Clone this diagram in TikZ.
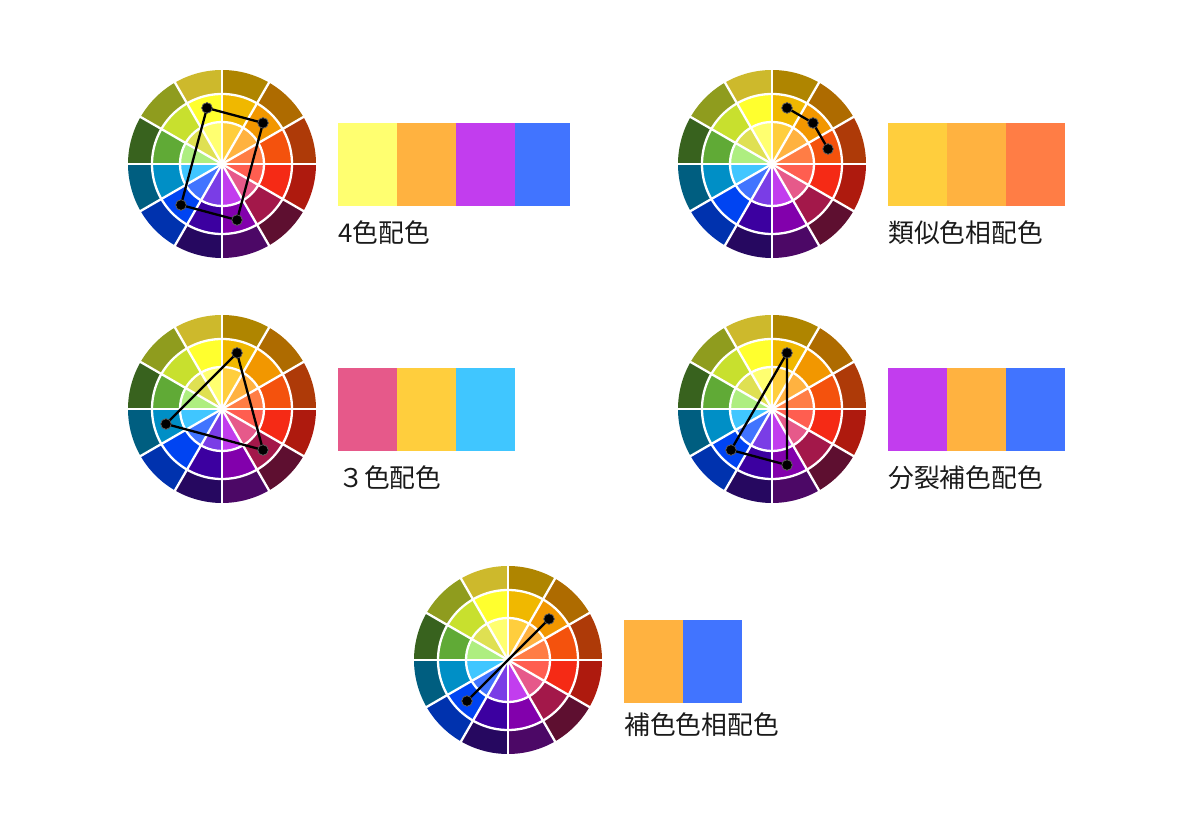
\documentclass[tikz,border=0pt]{standalone}
\usepackage{fontspec}
\newfontfamily\jpfont{Noto Sans CJK JP}
\definecolor{txt}{HTML}{1A1A1A}
% outer / middle / inner ring colours, clockwise from the top
\definecolor{oA}{HTML}{AF8500}\definecolor{mA}{HTML}{F0B800}\definecolor{iA}{HTML}{FFCE3D}
\definecolor{oB}{HTML}{AE6B00}\definecolor{mB}{HTML}{F29700}\definecolor{iB}{HTML}{FFB240}
\definecolor{oC}{HTML}{AE3A08}\definecolor{mC}{HTML}{F4520D}\definecolor{iC}{HTML}{FF7D45}
\definecolor{oD}{HTML}{AE1A0E}\definecolor{mD}{HTML}{F52A15}\definecolor{iD}{HTML}{FF5E50}
\definecolor{oE}{HTML}{5E0F30}\definecolor{mE}{HTML}{A3184A}\definecolor{iE}{HTML}{E6598A}
\definecolor{oF}{HTML}{4C0866}\definecolor{mF}{HTML}{8200AC}\definecolor{iF}{HTML}{C23DEE}
\definecolor{oG}{HTML}{260860}\definecolor{mG}{HTML}{3C00A0}\definecolor{iG}{HTML}{7A3DE6}
\definecolor{oH}{HTML}{0032AE}\definecolor{mH}{HTML}{0044F2}\definecolor{iH}{HTML}{4174FF}
\definecolor{oI}{HTML}{005E80}\definecolor{mI}{HTML}{008FC6}\definecolor{iI}{HTML}{40C6FF}
\definecolor{oJ}{HTML}{38621E}\definecolor{mJ}{HTML}{60AA36}\definecolor{iJ}{HTML}{AEEE80}
\definecolor{oK}{HTML}{8F9C1E}\definecolor{mK}{HTML}{C8E02E}\definecolor{iK}{HTML}{DFE052}
\definecolor{oL}{HTML}{CDB92C}\definecolor{mL}{HTML}{FFFF2E}\definecolor{iL}{HTML}{FFFF70}
\tikzset{
  colorwheel/.pic={
    \foreach \k/\s in {0/A,1/B,2/C,3/D,4/E,5/F,6/G,7/H,8/I,9/J,10/K,11/L}{
      \pgfmathsetmacro\ea{90-30*\k}
      \pgfmathsetmacro\eb{60-30*\k}
      \fill[o\s] (0,0) -- (\ea:94) arc[start angle=\ea,end angle=\eb,radius=94] -- cycle;
      \fill[m\s] (0,0) -- (\ea:70) arc[start angle=\ea,end angle=\eb,radius=70] -- cycle;
      \fill[i\s] (0,0) -- (\ea:42) arc[start angle=\ea,end angle=\eb,radius=42] -- cycle;
    }
    \foreach \k in {0,30,...,330}{\draw[white,line width=2.3pt] (0,0) -- (\k:94.8);}
    \draw[white,line width=2.3pt] (0,0) circle[radius=42] (0,0) circle[radius=70];
  },
  dotmark/.style={circle,fill=black,draw=black!60,line width=0.6pt,minimum size=10.5pt,inner sep=0pt},
  conn/.style={black,line width=2.3pt,line join=round},
  swatch/.style={rectangle,inner sep=0pt,outer sep=0pt,minimum height=83pt,anchor=south west},
  lab/.style={font=\jpfont\fontsize{25.8}{30}\selectfont,text=txt,inner sep=0pt,anchor=base west}
}
\begin{document}
\begin{tikzpicture}[x=1pt,y=1pt]
\useasboundingbox (0,0) rectangle (1177,824);
\fill[white] (0,0) rectangle (1177,824);
% wheel centres
\coordinate (c1) at (222,660);
\coordinate (c2) at (772,660);
\coordinate (c3) at (222,415);
\coordinate (c4) at (772,415);
\coordinate (c5) at (508,164);
\foreach \c in {c1,c2,c3,c4,c5}{\pic at (\c) {colorwheel};}
% --- 4色配色
\node[dotmark] (a1) at ([shift={(105:58)}]c1) {};
\node[dotmark] (a2) at ([shift={(45:58)}]c1) {};
\node[dotmark] (a3) at ([shift={(-75:58)}]c1) {};
\node[dotmark] (a4) at ([shift={(-135:58)}]c1) {};
\draw[conn] (a1.center) -- (a2.center) -- (a3.center) -- (a4.center) -- cycle;
\foreach \n in {a1,a2,a3,a4}{\node[dotmark] at (\n) {};}
% --- 類似色相配色
\node[dotmark] (b1) at ([shift={(75:58)}]c2) {};
\node[dotmark] (b2) at ([shift={(45:58)}]c2) {};
\node[dotmark] (b3) at ([shift={(15:58)}]c2) {};
\draw[conn] (b1.center) -- (b2.center) -- (b3.center);
\foreach \n in {b1,b2,b3}{\node[dotmark] at (\n) {};}
% --- ３色配色
\node[dotmark] (d1) at ([shift={(75:58)}]c3) {};
\node[dotmark] (d2) at ([shift={(-45:58)}]c3) {};
\node[dotmark] (d3) at ([shift={(-165:58)}]c3) {};
\draw[conn] (d1.center) -- (d2.center) -- (d3.center) -- cycle;
\foreach \n in {d1,d2,d3}{\node[dotmark] at (\n) {};}
% --- 分裂補色配色
\node[dotmark] (e1) at ([shift={(75:58)}]c4) {};
\node[dotmark] (e2) at ([shift={(-75:58)}]c4) {};
\node[dotmark] (e3) at ([shift={(-135:58)}]c4) {};
\draw[conn] (e1.center) -- (e2.center) -- (e3.center) -- cycle;
\foreach \n in {e1,e2,e3}{\node[dotmark] at (\n) {};}
% --- 補色色相配色
\node[dotmark] (f1) at ([shift={(45:58)}]c5) {};
\node[dotmark] (f2) at ([shift={(-135:58)}]c5) {};
\draw[conn] (f1.center) -- (f2.center);
\foreach \n in {f1,f2}{\node[dotmark] at (\n) {};}
% swatches
\node[swatch,fill=iL,minimum width=59pt] (s11) at (338,618) {};
\node[swatch,fill=iB,minimum width=59pt] (s12) at (397,618) {};
\node[swatch,fill=iF,minimum width=59pt] (s13) at (456,618) {};
\node[swatch,fill=iH,minimum width=55pt] (s14) at (515,618) {};
\node[swatch,fill=iA,minimum width=59pt] (s21) at (888,618) {};
\node[swatch,fill=iB,minimum width=59pt] (s22) at (947,618) {};
\node[swatch,fill=iC,minimum width=59pt] (s23) at (1006,618) {};
\node[swatch,fill=iE,minimum width=59pt] (s31) at (338,373) {};
\node[swatch,fill=iA,minimum width=59pt] (s32) at (397,373) {};
\node[swatch,fill=iI,minimum width=59pt] (s33) at (456,373) {};
\node[swatch,fill=iF,minimum width=59pt] (s41) at (888,373) {};
\node[swatch,fill=iB,minimum width=59pt] (s42) at (947,373) {};
\node[swatch,fill=iH,minimum width=59pt] (s43) at (1006,373) {};
\node[swatch,fill=iB,minimum width=59pt] (s51) at (624,121) {};
\node[swatch,fill=iH,minimum width=59pt] (s52) at (683,121) {};
% labels
\node[lab] (t1) at (338,581) {4色配色};
\node[lab] (t2) at (888,581) {類似色相配色};
\node[lab] (t3) at (338,336) {３色配色};
\node[lab] (t4) at (888,336) {分裂補色配色};
\node[lab] (t5) at (624,89) {補色色相配色};
\end{tikzpicture}
\end{document}
